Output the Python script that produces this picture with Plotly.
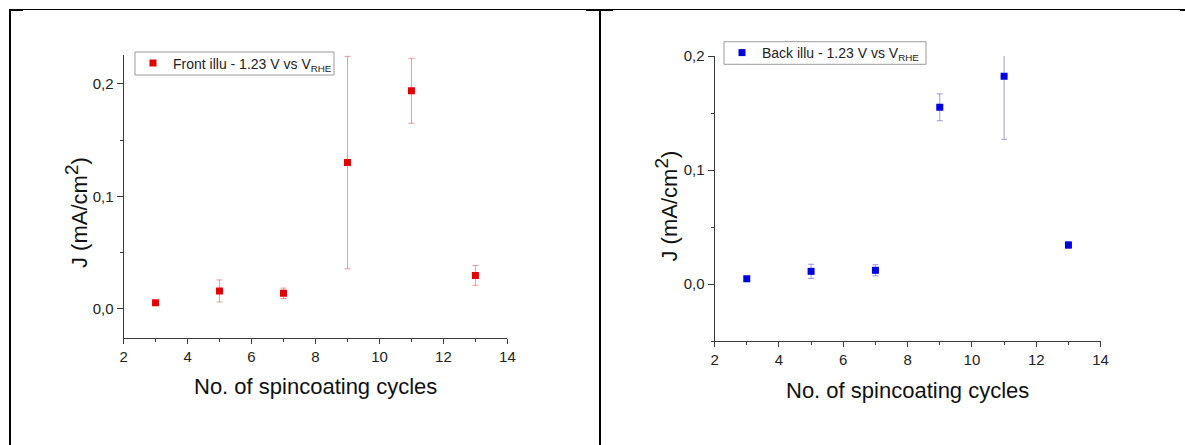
import plotly.graph_objects as go

# Spin-coating cycles and photocurrent density at 1.23 V vs RHE
cycles = [3, 5, 7, 9, 11, 13]

front_j = [0.0056, 0.0160, 0.0139, 0.1300, 0.1937, 0.0298]
front_err = [0.0010, 0.0098, 0.0046, 0.0943, 0.0288, 0.0088]

back_j = [0.0047, 0.0111, 0.0120, 0.1550, 0.1822, 0.0342]
back_err = [0.0010, 0.0062, 0.0049, 0.0118, 0.0553, 0.0030]

x_title = "No. of spincoating cycles"
y_title = 'J (mA/cm<sup><span style="font-size:19px">2</span></sup>)'
front_name = "Front illu - 1.23 V vs V<sub>RHE</sub>"
back_name = "Back illu - 1.23 V vs V<sub>RHE</sub>"

W, H = 1185, 445
FONT = "Liberation Sans, Arial, sans-serif"
AXIS_COLOR = "#3a3a3a"


def px(x):
    return x / W


def py(y):
    return 1 - y / H


fig = go.Figure()

fig.add_trace(go.Scatter(
    x=cycles, y=front_j, mode="markers", name=front_name,
    marker=dict(symbol="square", size=7, color="#e30000"),
    error_y=dict(type="data", array=front_err, visible=True,
                 color="rgba(225,120,120,0.75)", thickness=1, width=3),
    xaxis="x", yaxis="y", legend="legend",
))

fig.add_trace(go.Scatter(
    x=cycles, y=back_j, mode="markers", name=back_name,
    marker=dict(symbol="square", size=7, color="#0000e0"),
    error_y=dict(type="data", array=back_err, visible=True,
                 color="rgba(130,130,215,0.8)", thickness=1, width=3),
    xaxis="x2", yaxis="y2", legend="legend2",
))

tick_font = dict(family=FONT, size=15, color="#222")


def x_axis(domain, anchor):
    return dict(
        domain=domain, anchor=anchor, range=[2, 14], automargin=False,
        tickmode="linear", tick0=2, dtick=2,
        showline=True, linecolor=AXIS_COLOR, linewidth=1, mirror=False,
        ticks="outside", ticklen=5, tickcolor=AXIS_COLOR,
        minor=dict(dtick=1, tick0=2, ticks="outside", ticklen=3, tickcolor=AXIS_COLOR),
        showgrid=False, zeroline=False, tickfont=tick_font,
    )


def y_axis(domain, anchor, rng):
    return dict(
        domain=domain, anchor=anchor, range=rng, automargin=False,
        tickmode="linear", tick0=0, dtick=0.1, tickformat=".1f",
        showline=True, linecolor=AXIS_COLOR, linewidth=1, mirror=False,
        ticks="outside", ticklen=6, tickcolor=AXIS_COLOR,
        minor=dict(dtick=0.05, tick0=0, ticks="outside", ticklen=3, tickcolor=AXIS_COLOR),
        showgrid=False, zeroline=False, tickfont=tick_font,
    )


legend_style = dict(
    bgcolor="rgba(0,0,0,0)", borderwidth=0,
    font=dict(family=FONT, size=14, color="#222"),
    xanchor="left", yanchor="middle", tracegroupgap=0,
)

title_font = dict(family=FONT, size=22, color="#111")

annotations = [
    dict(text=x_title, x=px(315.5), y=py(386.7), xref="paper", yref="paper",
         showarrow=False, xanchor="center", yanchor="middle", font=title_font),
    dict(text=x_title, x=px(907.6), y=py(390), xref="paper", yref="paper",
         showarrow=False, xanchor="center", yanchor="middle", font=title_font),
    dict(text=y_title, x=px(76), y=py(213), xref="paper", yref="paper", textangle=-90,
         showarrow=False, xanchor="center", yanchor="middle", font=title_font),
    dict(text=y_title, x=px(666), y=py(206.5), xref="paper", yref="paper", textangle=-90,
         showarrow=False, xanchor="center", yanchor="middle", font=title_font),
]


def hline(x0, x1, y, w):
    return dict(type="line", xref="paper", yref="paper", x0=px(x0), x1=px(x1),
                y0=py(y), y1=py(y), line=dict(color="black", width=w))


def vline(x, y0, y1, w):
    return dict(type="line", xref="paper", yref="paper", x0=px(x), x1=px(x),
                y0=py(y0), y1=py(y1), line=dict(color="black", width=w))


def legend_box(x0, x1, y0, y1):
    return dict(type="rect", xref="paper", yref="paper", layer="above",
                x0=px(x0), x1=px(x1), y0=py(y1), y1=py(y0),
                line=dict(color="#9a9a9a", width=1), fillcolor="rgba(0,0,0,0)")


# Table frame around the two panels, plus the legend frames
shapes = [
    hline(9, 1185, 9.5, 1),
    vline(10, 9, 445, 2),
    vline(600, 9, 445, 2),
    hline(9, 23, 10, 2),
    hline(586, 613, 10, 2),
    hline(1180, 1185, 10, 2),
    legend_box(135, 334, 52, 75),
    legend_box(724, 926, 41.7, 64.3),
]

fig.update_layout(
    width=W, height=H, autosize=False,
    margin=dict(l=0, r=0, t=0, b=0, pad=0, autoexpand=False),
    paper_bgcolor="white", plot_bgcolor="rgba(0,0,0,0)",
    separators=",.",
    font=dict(family=FONT),
    xaxis=x_axis([px(123.6), px(507.4)], "y"),
    yaxis=y_axis([py(337.7), py(55)], "x", [-0.0255, 0.2255]),
    xaxis2=x_axis([px(714.6), px(1100.6)], "y2"),
    yaxis2=y_axis([py(341), py(56)], "x2", [-0.05, 0.2]),
    legend=dict(x=px(133), y=py(63.5), **legend_style),
    legend2=dict(x=px(722), y=py(53), **legend_style),
    annotations=annotations,
    shapes=shapes,
    showlegend=True,
)

fig.write_html("out.html")
